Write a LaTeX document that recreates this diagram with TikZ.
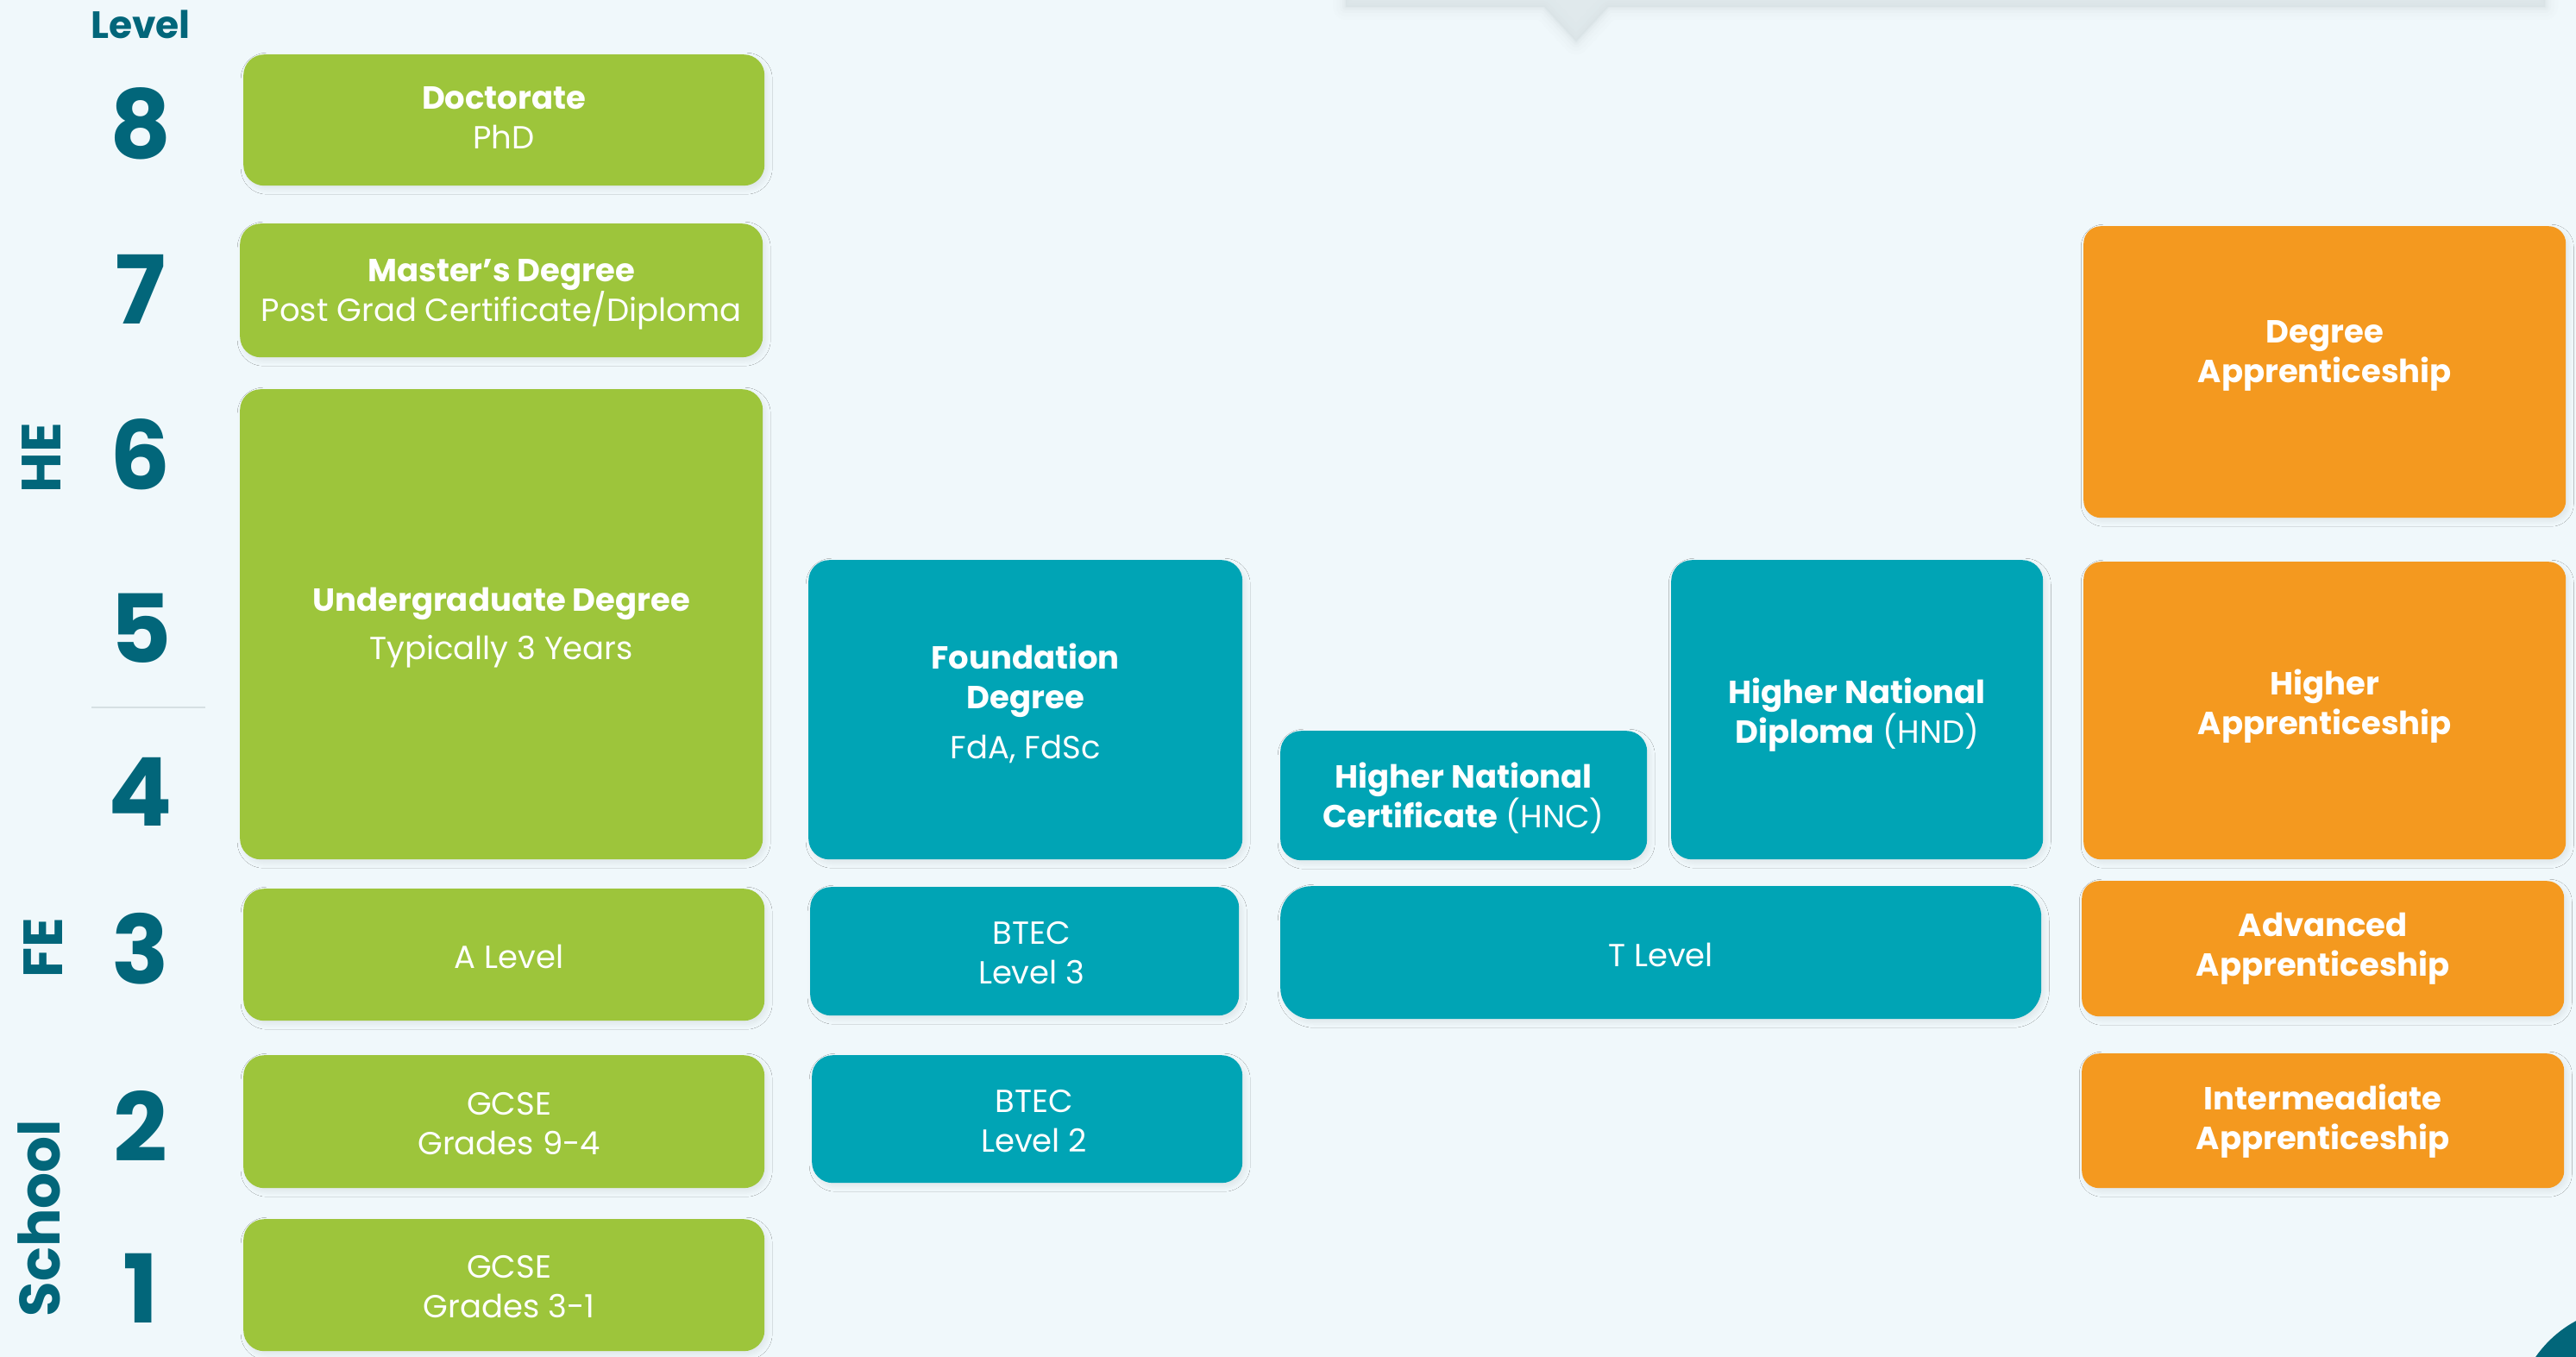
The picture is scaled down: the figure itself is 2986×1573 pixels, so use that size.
\documentclass[tikz,border=0pt]{standalone}
\usepackage{fontspec}
\setmainfont{Poppins}
\usetikzlibrary{shadows.blur}
\definecolor{bgc}{HTML}{F0F8FB}
\definecolor{lvgreen}{HTML}{9DC53B}
\definecolor{lvteal}{HTML}{00A4B5}
\definecolor{lvorange}{HTML}{F4991F}
\definecolor{lvdark}{HTML}{02667A}
\definecolor{shadegrey}{HTML}{D6E0E3}
\newcommand\boxfont{\fontsize{37}{46}\selectfont}
\tikzset{
  box/.style={rounded corners=24pt, inner sep=0pt, text=white, align=center, font=\boxfont, anchor=north west,
    blur shadow={shadow xshift=3pt, shadow yshift=-4pt, shadow blur radius=6pt, shadow opacity=7}},
  gbox/.style={box, fill=lvgreen},
  tbox/.style={box, fill=lvteal},
  obox/.style={box, fill=lvorange, rounded corners=20pt},
  lvnum/.style={text=lvdark, font=\fontsize{110}{110}\selectfont\bfseries, inner sep=0pt},
  sect/.style={text=lvdark, font=\fontsize{64}{64}\selectfont\bfseries, rotate=90, inner sep=0pt},
  btxt/.style={text=white, align=center, font=\boxfont, inner sep=0pt},
}
\begin{document}
\begin{tikzpicture}[x=1pt,y=-1pt]
\useasboundingbox (0,0) rectangle (2986,1573);
\clip (0,0) rectangle (2986,1573);
\fill[bgc] (0,0) rectangle (2986,1573);
% top shadow with pointer
\foreach \w/\o in {30/0.06,22/0.08,14/0.12,8/0.18,3/0.3}{
  \draw[shadegrey, line width=\w pt, opacity=\o, line join=round]
    (1560,-20) -- (1560,8) -- (1790,8) -- (1827,48) -- (1864,8) -- (2950,8) -- (2950,-20);
}
\fill[shadegrey, opacity=0.6] (1560,-20) -- (1560,8) -- (1790,8) -- (1827,48) -- (1864,8) -- (2950,8) -- (2950,-20) -- cycle;
% corner circle
\fill[lvdark] (3050,1650) circle (135);
% level labels
\node[text=lvdark, font=\fontsize{44}{44}\selectfont\bfseries, inner sep=0pt] (lvl) at (163,28) {Level};
\node[lvnum] (n8) at (163,143) {8};
\node[lvnum] (n7) at (163,335) {7};
\node[lvnum] (n6) at (163,527) {6};
\node[lvnum] (n5) at (163,728) {5};
\node[lvnum] (n4) at (163,918) {4};
\node[lvnum] (n3) at (163,1100) {3};
\node[lvnum] (n2) at (163,1305) {2};
\node[lvnum] (n1) at (163,1493) {1};
\coordinate (sepA) at (106,820);
\coordinate (sepB) at (238,820);
\draw[shadegrey, line width=1.5pt] (sepA) -- (sepB);
\node[sect] (he) at (48,531) {HE};
\node[sect] (fe) at (50,1099) {FE};
\node[sect, font=\fontsize{66}{66}\selectfont\bfseries] (school) at (45,1412) {School};
% green column
\node[gbox, minimum width=604pt, minimum height=152pt] (doc) at (282,63) {};
\node[btxt] (doct) at ([yshift=3pt]doc.center) {\textbf{Doctorate}\\PhD};
\node[gbox, minimum width=606pt, minimum height=155pt] (mas) at (278,259) {};
\node[btxt] (mast) at ([yshift=-5pt]mas.center) {\textbf{Master’s Degree}\\Post Grad Certificate/Diploma};
\node[gbox, minimum width=606pt, minimum height=545pt] (ug) at (278,451) {};
\node[btxt] (ugt) at ([yshift=-4pt]ug.center) {\textbf{Undergraduate Degree}\\[10pt]Typically 3 Years};
\node[gbox, minimum width=604pt, minimum height=153pt] (alev) at (282,1030) {};
\node[btxt] (alevt) at ([yshift=-2pt,xshift=6pt]alev.center) {A Level};
\node[gbox, minimum width=604pt, minimum height=154pt] (gcse2) at (282,1223) {};
\node[btxt] (gcse2t) at ([yshift=-2pt,xshift=6pt]gcse2.center) {GCSE\\Grades 9-4};
\node[gbox, minimum width=604pt, minimum height=153pt] (gcse1) at (282,1413) {};
\node[btxt] (gcse1t) at ([yshift=-2pt,xshift=6pt]gcse1.center) {GCSE\\Grades 3-1};
% teal columns
\node[tbox, minimum width=503pt, minimum height=347pt] (fd) at (937,649) {};
\node[btxt] (fdt) at ([yshift=7pt]fd.center) {\textbf{Foundation}\\\textbf{Degree}\\[12pt]FdA, FdSc};
\node[tbox, minimum width=497pt, minimum height=149pt] (btec3) at (939,1028) {};
\node[btxt] (btec3t) at ([yshift=-2pt,xshift=8pt]btec3.center) {BTEC\\Level 3};
\node[tbox, minimum width=499pt, minimum height=148pt] (btec2) at (941,1223) {};
\node[btxt] (btec2t) at ([yshift=-2pt,xshift=8pt]btec2.center) {BTEC\\Level 2};
\node[tbox, minimum width=425pt, minimum height=150pt] (hnc) at (1484,847) {};
\node[btxt] (hnct) at ([yshift=-3pt]hnc.center) {\textbf{Higher National}\\\textbf{Certificate} (HNC)};
\node[tbox, minimum width=431pt, minimum height=347pt] (hnd) at (1937,649) {};
\node[btxt] (hndt) at ([yshift=-6pt]hnd.center) {\textbf{Higher National}\\\textbf{Diploma} (HND)};
\node[tbox, rounded corners=36pt, minimum width=882pt, minimum height=154pt] (tlev) at (1484,1027) {};
\node[btxt] (tlevt) at ([yshift=-3pt]tlev.center) {T Level};
% orange column
\node[obox, minimum width=559pt, minimum height=338pt] (dapp) at (2415,262) {};
\node[btxt, font=\boxfont\bfseries] (dappt) at ([yshift=19pt]dapp.center) {Degree\\Apprenticeship};
\node[obox, minimum width=559pt, minimum height=345pt] (happ) at (2415,651) {};
\node[btxt, font=\boxfont\bfseries] (happt) at ([yshift=5pt]happ.center) {Higher\\Apprenticeship};
\node[obox, minimum width=559pt, minimum height=157pt] (aapp) at (2413,1021) {};
\node[btxt, font=\boxfont\bfseries] (aappt) at (aapp.center) {Advanced\\Apprenticeship};
\node[obox, minimum width=559pt, minimum height=156pt] (iapp) at (2413,1221) {};
\node[btxt, font=\boxfont\bfseries] (iappt) at (iapp.center) {Intermeadiate\\Apprenticeship};
\end{tikzpicture}
\end{document}
